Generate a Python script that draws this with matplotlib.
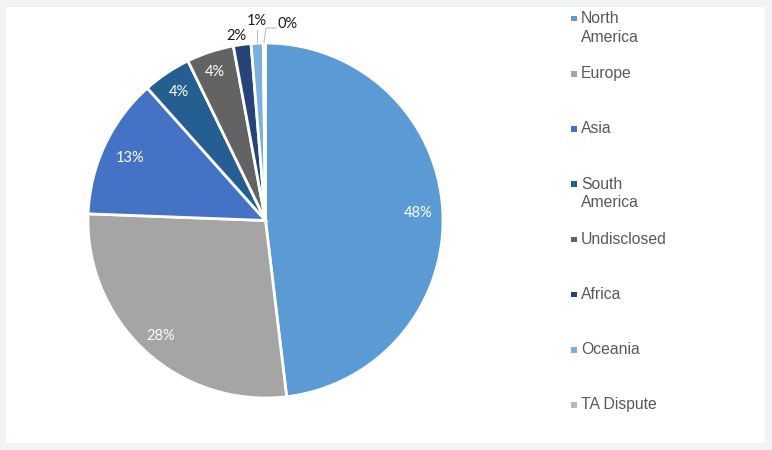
import matplotlib
matplotlib.use('Agg')
import matplotlib.pyplot as plt
from matplotlib.patches import Rectangle

regions = ['North\nAmerica', 'Europe', 'Asia', 'South\nAmerica', 'Undisclosed', 'Africa', 'Oceania', 'TA Dispute']
shares = [48.1, 27.5, 12.8, 4.4, 4.3, 1.6, 1.1, 0.2]
colors = ['#5b9bd5', '#a5a5a5', '#4472c4', '#255e91', '#636363', '#264478', '#7cafdd', '#b7b7b7']

# label spots in pixels from the top left of the picture
label_xy = [(418.5, 213), (161, 335.5), (130, 157.5), (179, 91.5), (215, 71.5), (236, 36), (257, 21), (288, 24)]
label_colors = ['white', 'white', 'white', 'white', 'white', '#1a1a1a', '#1a1a1a', '#1a1a1a']

W, H = 772, 450
CX, CY, R = 265.5, 220.5, 177.5


def flip(y):
    return H - y


fig = plt.figure(figsize=(W / 100, H / 100), dpi=100, facecolor='#f1f3f6')
ax = fig.add_axes([0, 0, 1, 1])

# white panel behind the chart
ax.add_patch(Rectangle((6, flip(443)), 759, 436, facecolor='white', edgecolor='none', zorder=0))

ax.pie(shares, colors=colors, startangle=90, counterclock=False, center=(CX, flip(CY)), radius=R,
       frame=True, wedgeprops={'edgecolor': 'white', 'linewidth': 2.0, 'zorder': 2})
ax.set_xlim(0, W)
ax.set_ylim(0, H)
ax.set_aspect('auto')
ax.axis('off')

for share, (x, y), c in zip(shares, label_xy, label_colors):
    ax.text(x, flip(y), '%.0f%%' % share, color=c, fontsize=10.5, family='Lato', ha='center', va='center', zorder=3)

# leader lines for the two smallest slices
ax.plot([257, 257], [flip(30), flip(42)], color='#bdbdbd', lw=0.8, zorder=3)
ax.plot([264, 266, 276], [flip(42), flip(28), flip(28)], color='#bdbdbd', lw=0.8, zorder=3)

# legend
for i, (name, c) in enumerate(zip(regions, colors)):
    y = 18.5 + 55.2 * i
    ax.add_patch(Rectangle((571, flip(y + 2.8)), 5.5, 5.5, facecolor=c, edgecolor='none', zorder=3))
    ax.text(581, flip(y - 7.5), name, color='#595959', fontsize=11.3, family='Liberation Sans', ha='left', va='top',
            linespacing=1.3, zorder=3)

fig.savefig('out.png', dpi=100, facecolor=fig.get_facecolor())
